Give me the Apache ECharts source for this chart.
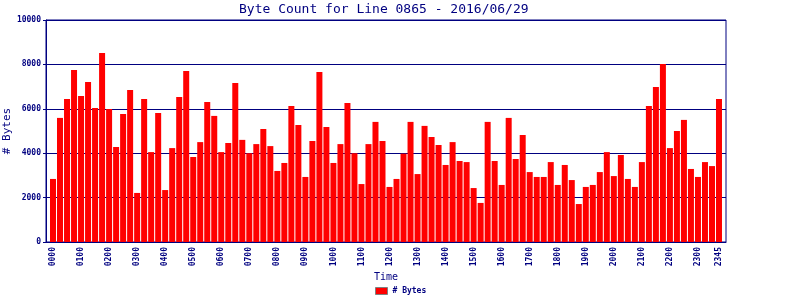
<!DOCTYPE html>
<html>
<head>
<meta charset="utf-8">
<script src="https://cdn.jsdelivr.net/npm/echarts@6/dist/echarts.min.js"></script>
<style>html,body{margin:0;padding:0;background:#fff}#c{width:800px;height:300px}</style>
</head>
<body>
<div id="c"></div>
<script>
var title = 'Byte Count for Line 0865 - 2016/06/29';
var seriesName = '# Bytes';
var xTitle = 'Time';
var yTitle = '# Bytes';
var times = [];
for (var h = 0; h < 24; h++) {
  for (var m = 0; m < 60; m += 15) {
    times.push((h < 10 ? '0' : '') + h + (m < 10 ? '0' : '') + m);
  }
}
var tickLabels = ['0000','0100','0200','0300','0400','0500','0600','0700','0800','0900','1000','1100','1200','1300','1400','1500','1600','1700','1800','1900','2000','2100','2200','2300','2345'];
var bytes = [
  2840, 5590, 6440, 7750, 6580, 7210, 6040, 8510,
  5990, 4280, 5770, 6850, 2210, 6440, 4050, 5810,
  2340, 4230, 6530, 7700, 3830, 4500, 6310, 5680,
  4050, 4460, 7160, 4600, 4000, 4410, 5090, 4320,
  3200, 3560, 6130, 5270, 2930, 4550, 7660, 5180,
  3560, 4410, 6260, 4000, 2610, 4410, 5410, 4550,
  2480, 2840, 3980, 5410, 3060, 5230, 4730, 4370,
  3470, 4500, 3650, 3600, 2430, 1760, 5410, 3650,
  2570, 5590, 3740, 4820, 3150, 2930, 2930, 3600,
  2570, 3470, 2790, 1710, 2480, 2570, 3150, 4050,
  2970, 3920, 2840, 2480, 3600, 6130, 6980, 8020,
  4230, 5000, 5500, 3290, 2930, 3600, 3420, 6440
];
var navy = '#000080';
var mono = '"DejaVu Sans Mono", "Liberation Mono", monospace';
var chart = echarts.init(document.getElementById('c'), null, {renderer: 'canvas'});
chart.setOption({
  animation: false,
  backgroundColor: '#ffffff',
  title: {
    text: title, left: 234, top: -2,
    textStyle: {color: navy, fontFamily: mono, fontSize: 13, fontWeight: 'normal'}
  },
  legend: {
    bottom: 0, left: 370, itemWidth: 12, itemHeight: 7, itemGap: 4,
    icon: 'rect',
    data: [{name: seriesName, itemStyle: {color: '#ff0000', borderColor: '#808080', borderWidth: 1}}],
    textStyle: {color: navy, fontFamily: mono, fontSize: 8, fontWeight: 'bold'}
  },
  grid: {left: 46, right: 74, top: 20, bottom: 58, outerBoundsMode: 'none', containLabel: false, show: true, borderColor: navy, borderWidth: 1, backgroundColor: 'transparent'},
  xAxis: {
    type: 'value', min: -1, max: 96, interval: 1,
    name: xTitle, nameLocation: 'middle', nameGap: 30, nameMoveOverlap: false,
    nameTextStyle: {color: navy, fontFamily: mono, fontSize: 10},
    axisLine: {show: true, onZero: false, lineStyle: {color: navy}},
    axisTick: {show: false},
    splitLine: {show: false},
    axisLabel: {
      rotate: 90, color: navy, fontFamily: mono, fontSize: 8, fontWeight: 'bold', margin: 5,
      hideOverlap: false, showMinLabel: true, showMaxLabel: true,
      formatter: function (v) {
        var i = Math.round(v);
        if (i < 0 || i >= times.length) return '';
        var t = times[i];
        return tickLabels.indexOf(t) >= 0 ? t : '';
      }
    }
  },
  yAxis: {
    type: 'value', min: 0, max: 10000, interval: 2000,
    name: yTitle, nameLocation: 'middle', nameGap: 33, nameRotate: 90, nameMoveOverlap: false,
    nameTextStyle: {color: navy, fontFamily: mono, fontSize: 11},
    axisLine: {show: true, onZero: false, lineStyle: {color: navy}},
    axisTick: {show: true, length: 3, lineStyle: {color: navy}},
    splitLine: {show: true, lineStyle: {color: navy, width: 1}},
    axisLabel: {color: navy, fontFamily: mono, fontSize: 8, fontWeight: 'bold', margin: 5,
      formatter: function (v) { return String(v); }}
  },
  series: [{
    name: seriesName, type: 'bar', barWidth: 6,
    itemStyle: {color: '#ff0000'},
    data: bytes.map(function (v, i) { return [i, v]; })
  }]
});
</script>
</body>
</html>
